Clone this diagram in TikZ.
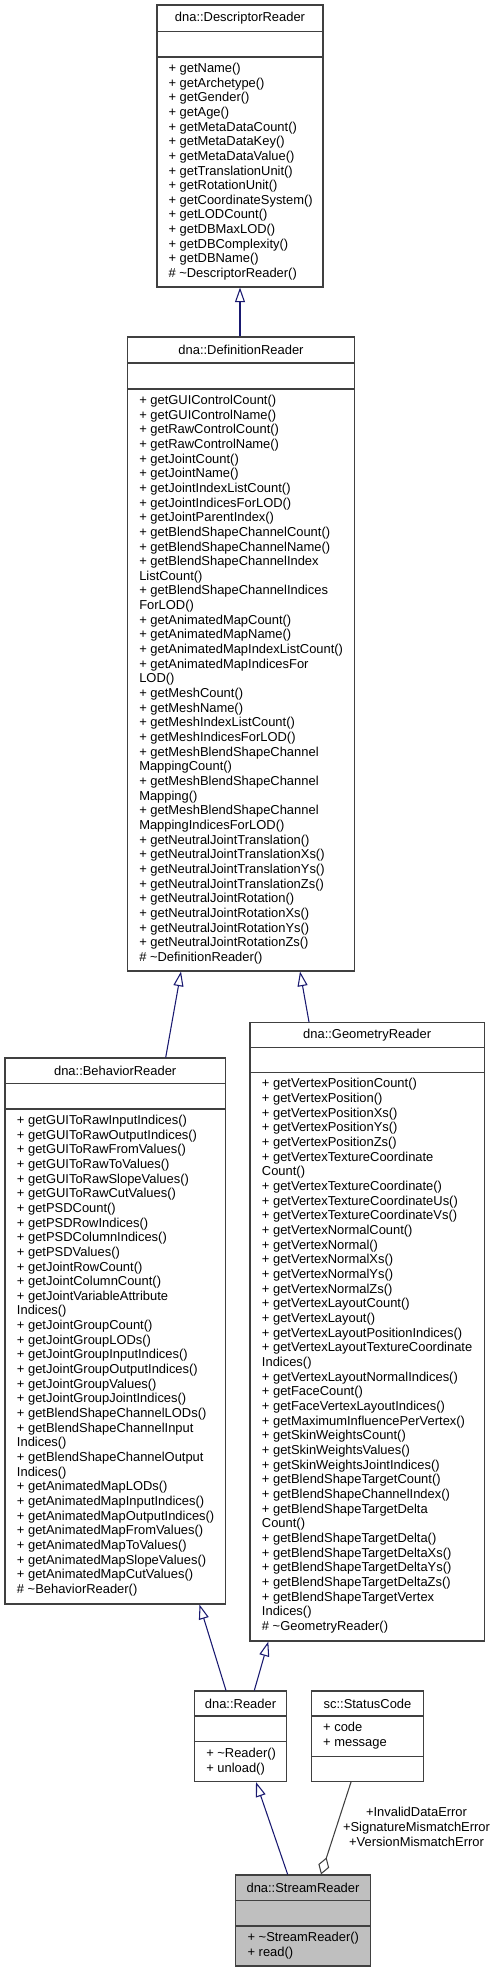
\documentclass[tikz,border=0pt]{standalone}
\usepackage{fontspec}
\setmainfont{Liberation Sans}
\usetikzlibrary{arrows.meta,fit}

\definecolor{edgeblue}{HTML}{191970}
\definecolor{edgegray}{HTML}{404040}
\definecolor{boxgray}{HTML}{BFBFBF}

\tikzset{
  classbox/.style={draw=black!75, line width=0.8pt, inner sep=0pt, fill=white},
  sepline/.style={draw=black!75, line width=0.8pt},
  member/.style={anchor=base west, inner sep=0pt},
  title/.style={inner sep=0pt},
  inherit/.style={draw=edgeblue, line width=0.8pt, -{Triangle[open, length=11pt, width=7.5pt]}},
  aggregate/.style={draw=edgegray, line width=0.8pt, -{Diamond[open, length=13.5pt, width=8.5pt]}},
}

\begin{document}
\begin{tikzpicture}[x=0.75pt, y=-0.75pt, font=\fontsize{9.7}{11}\selectfont]
  \useasboundingbox (0,0) rectangle (497,1972);

  % dna::DescriptorReader
  \node[classbox, fit={(157,5) (323,287)}] (desc) {};
  \draw[sepline] (desc.west |- 0,31.5) -- (desc.east |- 0,31.5);
  \draw[sepline] (desc.west |- 0,57) -- (desc.east |- 0,57);
  \node[title] (desc-t) at (240,18.5) {dna::DescriptorReader};
  \foreach \m [count=\i from 0] in {+ getName(), + getArchetype(), + getGender(),
      + getAge(), + getMetaDataCount(), + getMetaDataKey(), + getMetaDataValue(),
      + getTranslationUnit(), + getRotationUnit(), + getCoordinateSystem(),
      + getLODCount(), + getDBMaxLOD(), + getDBComplexity(), + getDBName(),
      \# \textasciitilde DescriptorReader()}
    \node[member] (desc-m\i) at (168.3,72.4+\i*14.66) {\m};

  % dna::DefinitionReader
  \node[classbox, fit={(127.5,337) (354.5,971)}] (defn) {};
  \draw[sepline] (defn.west |- 0,363) -- (defn.east |- 0,363);
  \draw[sepline] (defn.west |- 0,389) -- (defn.east |- 0,389);
  \node[title] (defn-t) at (241,350) {dna::DefinitionReader};
  \foreach \m [count=\i from 0] in {+ getGUIControlCount(), + getGUIControlName(),
      + getRawControlCount(), + getRawControlName(), + getJointCount(),
      + getJointName(), + getJointIndexListCount(), + getJointIndicesForLOD(),
      + getJointParentIndex(), + getBlendShapeChannelCount(),
      + getBlendShapeChannelName(), + getBlendShapeChannelIndex, ListCount(),
      + getBlendShapeChannelIndices, ForLOD(), + getAnimatedMapCount(),
      + getAnimatedMapName(), + getAnimatedMapIndexListCount(),
      + getAnimatedMapIndicesFor, LOD(), + getMeshCount(), + getMeshName(),
      + getMeshIndexListCount(), + getMeshIndicesForLOD(),
      + getMeshBlendShapeChannel, MappingCount(), + getMeshBlendShapeChannel,
      Mapping(), + getMeshBlendShapeChannel, MappingIndicesForLOD(),
      + getNeutralJointTranslation(), + getNeutralJointTranslationXs(),
      + getNeutralJointTranslationYs(), + getNeutralJointTranslationZs(),
      + getNeutralJointRotation(), + getNeutralJointRotationXs(),
      + getNeutralJointRotationYs(), + getNeutralJointRotationZs(),
      \# \textasciitilde DefinitionReader()}
    \node[member] (defn-m\i) at (139,404.4+\i*14.66) {\m};

  % dna::BehaviorReader
  \node[classbox, fit={(5,1058) (225.5,1604)}] (behav) {};
  \draw[sepline] (behav.west |- 0,1083.5) -- (behav.east |- 0,1083.5);
  \draw[sepline] (behav.west |- 0,1109) -- (behav.east |- 0,1109);
  \node[title] (behav-t) at (115.2,1071) {dna::BehaviorReader};
  \foreach \m [count=\i from 0] in {+ getGUIToRawInputIndices(),
      + getGUIToRawOutputIndices(), + getGUIToRawFromValues(),
      + getGUIToRawToValues(), + getGUIToRawSlopeValues(),
      + getGUIToRawCutValues(), + getPSDCount(), + getPSDRowIndices(),
      + getPSDColumnIndices(), + getPSDValues(), + getJointRowCount(),
      + getJointColumnCount(), + getJointVariableAttribute, Indices(),
      + getJointGroupCount(), + getJointGroupLODs(), + getJointGroupInputIndices(),
      + getJointGroupOutputIndices(), + getJointGroupValues(),
      + getJointGroupJointIndices(), + getBlendShapeChannelLODs(),
      + getBlendShapeChannelInput, Indices(), + getBlendShapeChannelOutput,
      Indices(), + getAnimatedMapLODs(), + getAnimatedMapInputIndices(),
      + getAnimatedMapOutputIndices(), + getAnimatedMapFromValues(),
      + getAnimatedMapToValues(), + getAnimatedMapSlopeValues(),
      + getAnimatedMapCutValues(), \# \textasciitilde BehaviorReader()}
    \node[member] (behav-m\i) at (16.7,1124.4+\i*14.66) {\m};

  % dna::GeometryReader
  \node[classbox, fit={(250,1022.5) (484.5,1641)}] (geom) {};
  \draw[sepline] (geom.west |- 0,1047.5) -- (geom.east |- 0,1047.5);
  \draw[sepline] (geom.west |- 0,1072.5) -- (geom.east |- 0,1072.5);
  \node[title] (geom-t) at (367.2,1035) {dna::GeometryReader};
  \foreach \m [count=\i from 0] in {+ getVertexPositionCount(),
      + getVertexPosition(), + getVertexPositionXs(), + getVertexPositionYs(),
      + getVertexPositionZs(), + getVertexTextureCoordinate, Count(),
      + getVertexTextureCoordinate(), + getVertexTextureCoordinateUs(),
      + getVertexTextureCoordinateVs(), + getVertexNormalCount(),
      + getVertexNormal(), + getVertexNormalXs(), + getVertexNormalYs(),
      + getVertexNormalZs(), + getVertexLayoutCount(), + getVertexLayout(),
      + getVertexLayoutPositionIndices(), + getVertexLayoutTextureCoordinate,
      Indices(), + getVertexLayoutNormalIndices(), + getFaceCount(),
      + getFaceVertexLayoutIndices(), + getMaximumInfluencePerVertex(),
      + getSkinWeightsCount(), + getSkinWeightsValues(),
      + getSkinWeightsJointIndices(), + getBlendShapeTargetCount(),
      + getBlendShapeChannelIndex(), + getBlendShapeTargetDelta, Count(),
      + getBlendShapeTargetDelta(), + getBlendShapeTargetDeltaXs(),
      + getBlendShapeTargetDeltaYs(), + getBlendShapeTargetDeltaZs(),
      + getBlendShapeTargetVertex, Indices(), \# \textasciitilde GeometryReader()}
    \node[member] (geom-m\i) at (261.7,1087.9+\i*14.66) {\m};

  % dna::Reader
  \node[classbox, fit={(194.5,1691) (286.5,1781.5)}] (reader) {};
  \draw[sepline] (reader.west |- 0,1716) -- (reader.east |- 0,1716);
  \draw[sepline] (reader.west |- 0,1741.5) -- (reader.east |- 0,1741.5);
  \node[title] (reader-t) at (240.5,1703.5) {dna::Reader};
  \foreach \m [count=\i from 0] in {+ \textasciitilde Reader(), + unload()}
    \node[member] (reader-m\i) at (206,1757.4+\i*14.66) {\m};

  % sc::StatusCode
  \node[classbox, fit={(311.5,1691) (423.5,1781.5)}] (status) {};
  \draw[sepline] (status.west |- 0,1716) -- (status.east |- 0,1716);
  \draw[sepline] (status.west |- 0,1756.5) -- (status.east |- 0,1756.5);
  \node[title] (status-t) at (367.5,1703.5) {sc::StatusCode};
  \foreach \m [count=\i from 0] in {+ code, + message}
    \node[member] (status-m\i) at (322.9,1731.9+\i*14.66) {\m};

  % dna::StreamReader
  \node[classbox, fill=boxgray, fit={(235.5,1875) (370.5,1966)}] (stream) {};
  \draw[sepline] (stream.west |- 0,1900.5) -- (stream.east |- 0,1900.5);
  \draw[sepline] (stream.west |- 0,1926) -- (stream.east |- 0,1926);
  \node[title] (stream-t) at (303,1887.5) {dna::StreamReader};
  \foreach \m [count=\i from 0] in {+ \textasciitilde StreamReader(), + read()}
    \node[member] (stream-m\i) at (247.3,1941.4+\i*14.66) {\m};

  % inheritance
  \draw[inherit] (240,0 |- defn.north) -- (240,0 |- desc.south);
  \draw[inherit] (165.7,0 |- behav.north) -- (181,0 |- defn.south);
  \draw[inherit] (309,0 |- geom.north) -- (300,0 |- defn.south);
  \draw[inherit] (226,0 |- reader.north) -- (199.5,0 |- behav.south);
  \draw[inherit] (254.3,0 |- reader.north) -- (268.3,0 |- geom.south);
  \draw[inherit] (287.7,0 |- stream.north) -- (256,0 |- reader.south);

  % aggregation
  \draw[aggregate] (351,0 |- status.south) -- (321,0 |- stream.north);
  \node[align=center, inner sep=0pt, font=\fontsize{9.7}{11.25}\selectfont] (errs)
    at (416.5,1827.3) {+InvalidDataError\\+SignatureMismatchError\\+VersionMismatchError};
\end{tikzpicture}
\end{document}
